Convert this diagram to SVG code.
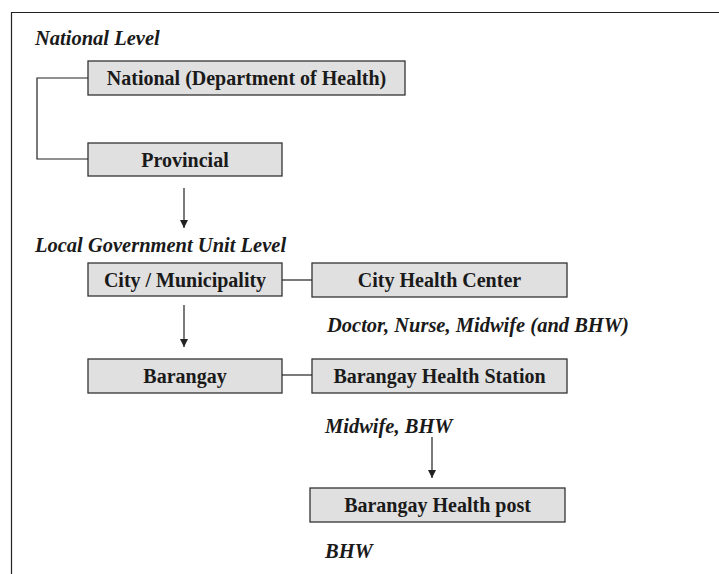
<svg xmlns="http://www.w3.org/2000/svg" width="719" height="574" viewBox="0 0 719 574">
<defs>
<style>
.box{fill:#e0e0e0;stroke:#333;stroke-width:1.3}
.lbl{font-family:"Liberation Serif","Times New Roman",serif;font-weight:bold;font-size:20px;fill:#1a1a1a;text-anchor:middle}
.it{font-family:"Liberation Serif","Times New Roman",serif;font-weight:bold;font-style:italic;font-size:20.5px;fill:#1a1a1a}
.ln{stroke:#222;stroke-width:1.2;fill:none}
</style>
<marker id="arr" viewBox="0 0 8 10" refX="8" refY="5" markerWidth="8" markerHeight="10" markerUnits="userSpaceOnUse" orient="auto">
<path d="M0,1 L8,5 L0,9 Z" fill="#222"/>
</marker>
</defs>
<rect width="719" height="574" fill="#fff"/>
<g id="frame"><path class="ln" d="M11.5,574 V12.5 H719" stroke-width="1.5"/></g>
<g id="section-labels">
<text class="it" x="35" y="45">National Level</text>
<text class="it" x="35" y="252">Local Government Unit Level</text>
</g>
<g id="national"><rect class="box" x="88" y="61" width="317" height="34"/><text class="lbl" x="246.5" y="85">National (Department of Health)</text></g>
<g id="provincial"><rect class="box" x="88" y="143" width="194" height="33"/><text class="lbl" x="185" y="166.5">Provincial</text></g>
<g id="city"><rect class="box" x="88" y="263" width="194" height="33"/><text class="lbl" x="185" y="286.5">City / Municipality</text></g>
<g id="city-health-center"><rect class="box" x="312" y="263" width="255" height="34"/><text class="lbl" x="439.5" y="287">City Health Center</text></g>
<g id="city-staff"><text class="it" x="327" y="332">Doctor, Nurse, Midwife (and BHW)</text></g>
<g id="barangay"><rect class="box" x="88" y="359" width="194" height="34"/><text class="lbl" x="185" y="383">Barangay</text></g>
<g id="barangay-health-station"><rect class="box" x="312" y="359" width="255" height="34"/><text class="lbl" x="439.5" y="383">Barangay Health Station</text></g>
<g id="station-staff"><text class="it" x="325" y="433">Midwife, BHW</text></g>
<g id="barangay-health-post"><rect class="box" x="310" y="488" width="255" height="34"/><text class="lbl" x="437.5" y="512">Barangay Health post</text></g>
<g id="post-staff"><text class="it" x="325" y="558">BHW</text></g>
<g id="connectors">
<path class="ln" d="M88,78 H37 V159 H88"/>
<path class="ln" d="M184,188 V228" marker-end="url(#arr)"/>
<path class="ln" d="M282,280 H312"/>
<path class="ln" d="M184,305 V347" marker-end="url(#arr)"/>
<path class="ln" d="M282,375 H312"/>
<path class="ln" d="M432,437 V478" marker-end="url(#arr)"/>
</g>
</svg>
